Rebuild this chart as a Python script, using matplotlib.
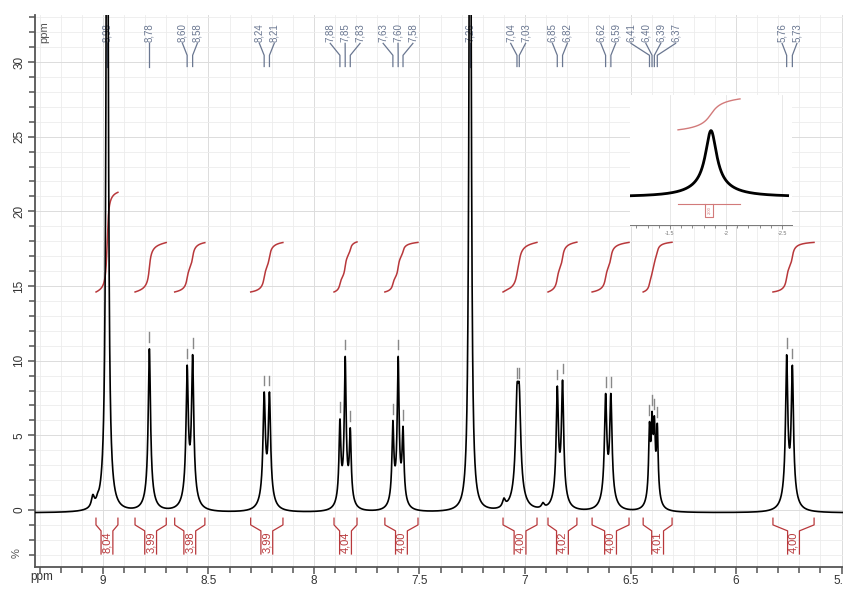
import numpy as np
import matplotlib
matplotlib.use("Agg")
import matplotlib.pyplot as plt
from matplotlib.ticker import MultipleLocator

plt.rcParams['font.family'] = ['Liberation Sans', 'DejaVu Sans']

# ---------------------------------------
# DATA
# ---------------------------------------
# labelled peaks, grouped by multiplet
group_labels = [["8,98"], ["8,78"], ["8,60", "8,58"], ["8,24", "8,21"],
                ["7,88", "7,85", "7,83"], ["7,63", "7,60", "7,58"], ["7,26"],
                ["7,04", "7,03"], ["6,85", "6,82"], ["6,62", "6,59"],
                ["6,41", "6,40", "6,39", "6,37"], ["5,76", "5,73"]]
group_ppm = [[8.980], [8.780], [8.601, 8.575], [8.236, 8.211],
             [7.877, 7.852, 7.828], [7.626, 7.601, 7.578], [7.260],
             [7.038, 7.027], [6.847, 6.822], [6.618, 6.593],
             [6.410, 6.398, 6.387, 6.373], [5.760, 5.733]]
group_height = [[60.0], [10.8], [9.7, 10.4], [7.9, 7.9],
                [6.1, 10.3, 5.5], [6.0, 10.3, 5.6], [60.0],
                [8.4, 8.4], [8.3, 8.7], [7.8, 7.8],
                [5.9, 6.6, 6.3, 5.8], [10.4, 9.7]]
group_hwhm = [0.0055, 0.0062, 0.0060, 0.0063, 0.0050, 0.0050, 0.0055,
              0.0080, 0.0060, 0.0063, 0.0046, 0.0060]
group_foot = [0.02, 0.12, 0.12, 0.12, 0.12, 0.12, 0.0,
              0.12, 0.12, 0.12, 0.12, 0.12]

# small unlabelled bumps
extra_ppm = [9.048, 9.025, 7.100, 6.915]
extra_height = [1.0, 0.6, 0.8, 0.5]
extra_hwhm = [0.008, 0.006, 0.008, 0.008]
baseline = -0.2

# integrals
integral_value = [8.04, 3.99, 3.98, 3.99, 4.04, 4.00, 4.00, 4.02, 4.00, 4.01, 4.00]
integral_text = ["8,04", "3,99", "3,98", "3,99", "4,04", "4,00", "4,00", "4,02", "4,00", "4,01", "4,00"]
integral_from = [9.033, 8.848, 8.660, 8.300, 7.905, 7.664, 7.104, 6.891, 6.682, 6.440, 5.825]
integral_to = [8.929, 8.700, 8.517, 8.147, 7.796, 7.507, 6.943, 6.754, 6.507, 6.303, 5.630]

# inset (high field region)
inset_peak_ppm = -1.866
inset_peak_height = 2.55
inset_peak_hwhm = 0.06
inset_int_from = -1.571
inset_int_to = -2.125
inset_int_text = "2,00"

RED = '#b8383b'
LBL = '#6a7791'
FOOT_K = 3.5


# line shape: narrow lorentzian on a broader foot
def shape(d, w, f):
    return (1 - f) / (1.0 + (d / w) ** 2) + f / (1.0 + (d / (FOOT_K * w)) ** 2)


# ---------------------------------------
# build spectrum from the peak list
# ---------------------------------------
pos = np.array([p for g in group_ppm for p in g] + extra_ppm)
hgt = np.array([h for g in group_height for h in g] + extra_height)
wid = np.array([group_hwhm[i] for i, g in enumerate(group_ppm) for _ in g] + extra_hwhm)
ft = np.array([group_foot[i] for i, g in enumerate(group_ppm) for _ in g] + [0.0] * len(extra_ppm))

L = shape(pos[:, None] - pos[None, :], wid[None, :], ft[None, :])
amp = np.clip(np.linalg.solve(L, hgt - baseline), 0.2, None)

x = np.linspace(9.322, 5.49, 8000)
y = baseline + np.sum(amp[None, :] * shape(x[:, None] - pos[None, :], wid[None, :], ft[None, :]), axis=1)


def spec_at(p):
    return baseline + np.sum(amp * shape(p - pos, wid, ft))


# ---------------------------------------
# figure
# ---------------------------------------
fig = plt.figure(figsize=(8.43, 5.89), dpi=100)
ax = fig.add_axes([35 / 843, 1 - 567 / 589, 1 - 35 / 843, (567 - 15) / 589])
ax.set_xlim(9.322, 5.493)
ax.set_ylim(-3.82, 33.15)

ax.xaxis.set_major_locator(MultipleLocator(0.5))
ax.xaxis.set_minor_locator(MultipleLocator(0.1))
ax.yaxis.set_major_locator(MultipleLocator(5))
ax.yaxis.set_minor_locator(MultipleLocator(1))
ax.grid(which='minor', color='#ececec', lw=0.6, zorder=0)
ax.grid(which='major', color='#dcdcdc', lw=0.7, zorder=0)
ax.set_axisbelow(True)
for s in ['top', 'right']:
    ax.spines[s].set_visible(False)
for s in ['left', 'bottom']:
    ax.spines[s].set_color('#555555')
    ax.spines[s].set_linewidth(1.3)
ax.tick_params(which='both', colors='#555555', labelcolor='#333333', labelsize=8.5, width=1.1)
ax.tick_params(which='major', length=5)
ax.tick_params(which='minor', length=4)
ax.tick_params(axis='x', pad=1)
ax.tick_params(axis='y', labelrotation=90, pad=2)
ax.set_xticks([9, 8.5, 8, 7.5, 7, 6.5, 6, 5.5])
ax.set_xticklabels(["9", "8.5", "8", "7.5", "7", "6.5", "6", "5.5"])
for t in ax.get_yticklabels():
    t.set_va('center')

ax.plot(x, y, color='black', lw=1.2, zorder=4)

# peak labels at the top
for labels, ppms in zip(group_labels, group_ppm):
    n = len(ppms)
    c = np.mean(ppms)
    lab_x = c + (np.arange(n)[::-1] - (n - 1) / 2) * 0.0705
    for lx, p, t in zip(lab_x, ppms, labels):
        ax.plot([lx, p, p], [31.25, 30.45, 29.7], color=LBL, lw=0.9, zorder=2)
        ax.text(lx, 31.35, t, rotation=90, ha='center', va='bottom',
                fontsize=7, color=LBL, zorder=2)
        h = spec_at(p)
        if h < 30:
            ax.plot([p, p], [h + 0.45, h + 1.1], color='#888888', lw=1.0, zorder=3)

# integral curves and brackets
for v, t, a, b in zip(integral_value, integral_text, integral_from, integral_to):
    m = (x <= a) & (x >= b)
    seg = y[m] - baseline
    cum = np.concatenate([[0], np.cumsum(0.5 * (seg[1:] + seg[:-1]))])
    cum = cum / cum[-1]
    ax.plot(x[m], 14.6 + 0.83 * v * cum, color=RED, lw=1.1, zorder=3)

    xc = 0.5 * (a + b)
    hw = 0.028
    ax.plot([a, a, xc + hw, xc + hw], [-0.55, -1.0, -1.4, -2.95], color=RED, lw=0.9)
    ax.plot([b, b, xc - hw, xc - hw], [-0.55, -1.0, -1.4, -2.95], color=RED, lw=0.9)
    ax.text(xc, -2.15, t, rotation=90, ha='center', va='center', fontsize=8, color=RED)

# axis captions
fig.text(44 / 843, 1 - 32 / 589, "ppm", rotation=90, ha='center', va='center',
         fontsize=8, color='#555555')
fig.text(17 / 843, 1 - 553 / 589, "%", rotation=90, ha='center', va='center',
         fontsize=8, color='#555555')
fig.text(42 / 843, 1 - 577 / 589, "ppm", ha='center', va='center',
         fontsize=8.5, color='#333333')

# ---------------------------------------
# inset
# ---------------------------------------
ins = fig.add_axes([630 / 843, 1 - 225 / 589, 162 / 843, 130 / 589])
ins.set_facecolor('white')
ins.set_xlim(-1.143, -2.589)
ins.set_ylim(-1.08, 3.92)
xi = np.linspace(-1.14, -2.55, 1500)
yi = inset_peak_height * shape(xi - inset_peak_ppm, inset_peak_hwhm, 0.15)
ins.plot(xi, yi, color='black', lw=2.0)

mi = (xi <= inset_int_from) & (xi >= inset_int_to)
cumi = np.concatenate([[0], np.cumsum(0.5 * (yi[mi][1:] + yi[mi][:-1]))])
cumi = cumi / cumi[-1]
ins.plot(xi[mi], 2.58 + 1.19 * cumi, color='#d27a7a', lw=1.0)

ci = 0.5 * (inset_int_from + inset_int_to)
ins.plot([inset_int_from, inset_int_to], [-0.27, -0.27], color='#d27a7a', lw=0.8)
ins.plot([ci + 0.035, ci + 0.035, ci - 0.035, ci - 0.035],
         [-0.27, -0.77, -0.77, -0.27], color='#d27a7a', lw=0.8)
ins.text(ci, -0.52, inset_int_text, rotation=90, ha='center', va='center',
         fontsize=3, color='#d27a7a')

ins.xaxis.set_major_locator(MultipleLocator(0.5))
ins.xaxis.set_minor_locator(MultipleLocator(0.1))
ins.set_xticks([-1.5, -2, -2.5])
ins.set_xticklabels(["-1.5", "-2", "-2.5"])
ins.set_yticks([])
ins.grid(axis='x', which='major', color='#e4e4e4', lw=0.6)
for s in ['top', 'right', 'left']:
    ins.spines[s].set_visible(False)
ins.spines['bottom'].set_color('#777777')
ins.spines['bottom'].set_linewidth(0.7)
ins.tick_params(which='both', colors='#777777', labelsize=4, width=0.6, pad=1.5)
ins.tick_params(which='major', length=3)
ins.tick_params(which='minor', length=2)

fig.savefig("out.png", dpi=100)
